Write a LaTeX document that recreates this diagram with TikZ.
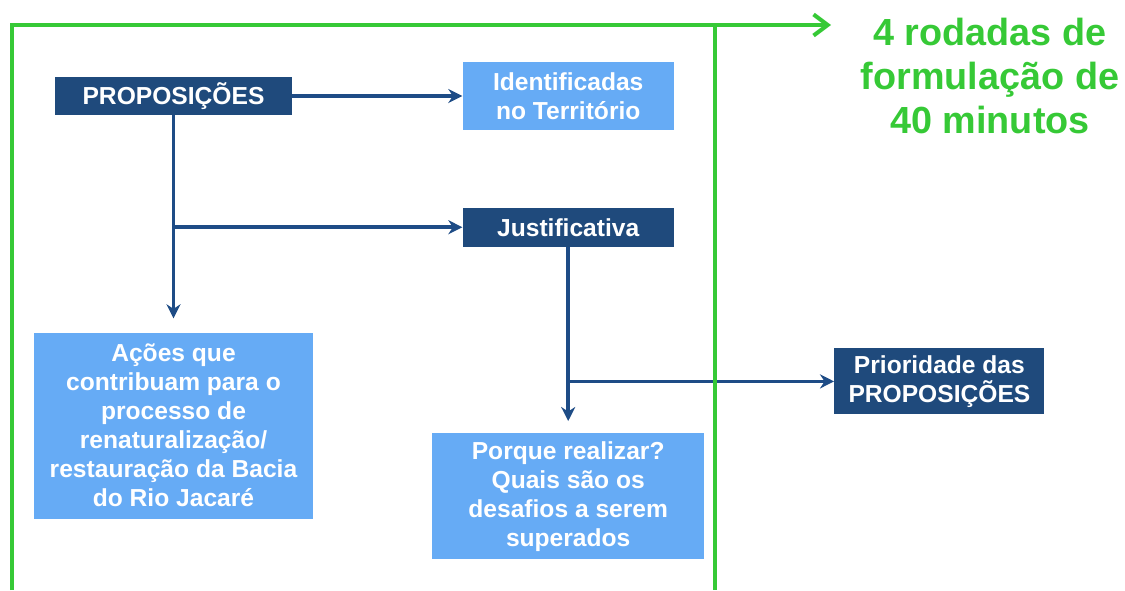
\documentclass[tikz,border=0pt]{standalone}
\usepackage{fontspec}
\setmainfont{Liberation Sans}
\usetikzlibrary{positioning, arrows.meta}
\definecolor{darkbox}{HTML}{1F4A7C}
\definecolor{lightbox}{HTML}{66ABF5}
\definecolor{linkblue}{HTML}{1E4C86}
\definecolor{framegreen}{HTML}{36C936}

\begin{document}
\begin{tikzpicture}[
    >=Stealth,
    dark/.style={fill=darkbox, text=white, inner sep=2pt, align=center,
                 font=\fontsize{14}{16.5}\selectfont\bfseries},
    light/.style={fill=lightbox, text=white, inner sep=2pt, align=center,
                  font=\fontsize{14}{16.5}\selectfont\bfseries},
    link/.style={draw=linkblue, line width=2pt, -{Stealth[length=8pt,width=8pt]}},
    frame/.style={draw=framegreen, line width=2.3pt},
]
\useasboundingbox (0,0) rectangle (22.5,-11.8);

% === FLOW ===
\node[dark, minimum width=4.74cm, minimum height=0.76cm] (prop) at (3.47,-1.92) {PROPOSIÇÕES};
\node[light, minimum width=4.22cm, minimum height=1.36cm, right=3.4cm of prop]
    (ident) {Identificadas\\no Território};
\node[dark, minimum width=4.22cm, minimum height=0.78cm, below=1.54cm of ident]
    (just) {Justificativa};
\node[light, minimum width=5.58cm, minimum height=3.72cm, below=4.34cm of prop]
    (acoes) {Ações que\\contribuam para o\\processo de\\renaturalização/\\restauração da Bacia\\do Rio Jacaré};
\node[light, minimum width=5.44cm, minimum height=2.52cm, below=3.72cm of just]
    (porque) {Porque realizar?\\Quais são os\\desafios a serem\\superados};
\node[dark, minimum width=4.2cm, minimum height=1.32cm, below right=2.02cm and 3.2cm of just]
    (prior) {Prioridade das\\PROPOSIÇÕES};

\draw[link] (prop) -- (ident);
\draw[link, shorten >=0.28cm] (prop.south) -- (prop.south |- acoes.north);
\draw[link] (prop.south |- just) -- (just);
\draw[link, shorten >=0.24cm] (just.south) -- (just.south |- porque.north);
\draw[link] (just.south |- prior) -- (prior);

% === FRAME ===
\coordinate (fr-tl) at (0.24,-0.5);
\coordinate (fr-bl) at (0.24,-11.8);
\coordinate (fr-tr) at (14.3,-0.5);
\coordinate (fr-br) at (14.3,-11.8);
\coordinate (fr-tip) at (16.62,-0.5);

\node[text=framegreen, align=center, font=\fontsize{21.5}{25}\selectfont\bfseries]
    (rounds) at (19.8,-1.52) {4 rodadas de\\formulação de\\40 minutos};

\draw[frame] (fr-bl) -- (fr-tl) -- (fr-tr) -- (fr-br);
\draw[frame, -{Straight Barb[length=8pt,width=12pt]}] (fr-tr) -- (fr-tip);

\end{tikzpicture}
\end{document}
